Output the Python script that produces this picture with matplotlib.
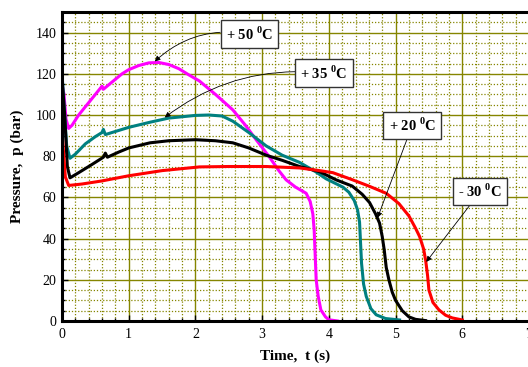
import numpy as np
import matplotlib
matplotlib.use("Agg")
import matplotlib.pyplot as plt
from matplotlib.ticker import MultipleLocator

plt.rcParams['font.family'] = ['Liberation Serif', 'DejaVu Serif']
plt.rcParams['mathtext.fontset'] = 'custom'
plt.rcParams['mathtext.rm'] = 'Liberation Serif'
plt.rcParams['mathtext.bf'] = 'Liberation Serif:bold'

# +50 C (magenta)
t50 = [0.0, 0.03, 0.06, 0.1, 0.15, 0.25, 0.4, 0.55, 0.6, 0.62, 0.75, 0.9, 1.0, 1.15, 1.3,
       1.45, 1.6, 1.75, 1.9, 2.06, 2.3, 2.56, 2.75, 2.91, 3.1, 3.25, 3.36, 3.5, 3.66, 3.72,
       3.76, 3.78, 3.79, 3.81, 3.84, 3.88, 3.95, 4.0, 4.13]
p50 = [115, 110, 98, 93.5, 95, 100, 106, 112, 114, 112.5, 116, 120, 122, 124, 125.3,
       125.5, 124.5, 122.5, 119.5, 116.5, 110, 102.5, 95, 88, 80, 73, 68.5, 65, 62, 58,
       52, 44, 36, 20, 12, 5.4, 2, 0.6, 0]

# +35 C (teal)
t35 = [0.0, 0.03, 0.07, 0.12, 0.2, 0.35, 0.5, 0.6, 0.62, 0.65, 0.8, 1.0, 1.32, 1.6, 2.0,
       2.2, 2.4, 2.56, 2.8, 3.06, 3.3, 3.56, 3.8, 3.96, 4.21, 4.3, 4.38, 4.43, 4.46, 4.475,
       4.49, 4.52, 4.56, 4.63, 4.71, 4.85, 5.06]
p35 = [120, 105, 85, 79, 81, 86, 89.5, 91.5, 93, 90.5, 92, 94, 96.5, 98.5, 99.8,
       100, 99.5, 97, 91.5, 85, 80.5, 77, 72.5, 69, 65, 62.5, 58.5, 54, 48, 38,
       28, 18, 12, 6, 3, 1.2, 0.5]

# +20 C (black)
t20 = [0.0, 0.04, 0.08, 0.12, 0.25, 0.45, 0.62, 0.65, 0.68, 0.85, 1.0, 1.32, 1.6, 2.0,
       2.3, 2.56, 2.8, 3.06, 3.3, 3.56, 3.86, 4.11, 4.35, 4.5, 4.61, 4.7, 4.76, 4.8, 4.83,
       4.86, 4.9, 4.95, 5.0, 5.1, 5.2, 5.3, 5.45]
p20 = [118, 100, 75, 69.5, 72, 76, 79.5, 81.5, 79.5, 82, 84, 86.5, 87.5, 88,
       87.5, 86.5, 84, 80.5, 78, 75, 72.5, 68.5, 65.5, 61.5, 57.5, 52, 47.5, 41, 34.5,
       26, 20, 14, 10, 5, 2, 0.8, 0.2]

# -30 C (red)
tm30 = [0.0, 0.05, 0.1, 0.3, 0.6, 1.0, 1.5, 2.06, 2.5, 3.06, 3.56, 3.86, 4.06, 4.35, 4.6,
        4.86, 5.05, 5.2, 5.3, 5.36, 5.42, 5.45, 5.48, 5.5, 5.56, 5.65, 5.75, 5.85, 6.0]
pm30 = [92, 70, 65.8, 66.5, 68, 70.5, 73, 74.8, 75, 75, 74.3, 73, 72, 68.6, 65.5,
        62, 57, 51, 45, 41, 35, 29.7, 22, 15, 9, 5.4, 2.8, 1.5, 0.5]

labels = [r'+ 50 $^{\mathbf{0}}$C', r'+ 35 $^{\mathbf{0}}$C', r'+ 20 $^{\mathbf{0}}$C', r'- 30 $^{\mathbf{0}}$C']

fig = plt.figure(figsize=(5.28, 3.67), dpi=100)
ax = fig.add_axes([62/528, 1 - 321/367, 467/528, 309/367])

grid_c = '#858500'
ax.xaxis.set_major_locator(MultipleLocator(1))
ax.xaxis.set_minor_locator(MultipleLocator(0.2))
ax.yaxis.set_major_locator(MultipleLocator(20))
ax.yaxis.set_minor_locator(MultipleLocator(5))
ax.grid(which='major', color=grid_c, lw=1.0, ls='-')
ax.grid(which='minor', color=grid_c, lw=0.9, ls=(0, (1, 1.5)))
ax.set_axisbelow(True)

ax.plot(t50, p50, color='#ff00ff', lw=2.2)
ax.plot(t35, p35, color='#008080', lw=2.2)
ax.plot(t20, p20, color='black', lw=2.2)
ax.plot(tm30, pm30, color='#ff0000', lw=2.2)

ax.set_xlim(0, 7)
ax.set_ylim(0, 150)
ax.set_yticks(np.arange(0, 141, 20))

for s in ['left', 'bottom', 'top']:
    ax.spines[s].set_linewidth(2.2)
    ax.spines[s].set_color('black')

ax.tick_params(which='major', direction='in', length=4, width=1, labelsize=10)
ax.tick_params(axis='x', which='major', pad=5)
ax.tick_params(axis='y', which='major', pad=4)
ax.tick_params(which='minor', direction='in', length=2, width=1)

ax.set_xlabel('Time,  t (s)', fontsize=11, fontweight='bold', labelpad=6)
ax.set_ylabel('Pressure,  p (bar)', fontsize=11, fontweight='bold', labelpad=8)

box = dict(boxstyle='square,pad=0.35', fc='white', ec='#333333', lw=1.0)
arr = dict(arrowstyle='-|>', color='black', lw=0.6, mutation_scale=8, shrinkA=0, shrinkB=0)

ax.annotate(labels[0], xy=(1.39, 126), xytext=(2.81, 139.2), fontsize=10.5, fontweight='bold',
            ha='center', va='center', bbox=box,
            arrowprops=dict(arr, connectionstyle='arc3,rad=0.25'))
ax.annotate(labels[1], xy=(1.54, 98.8), xytext=(3.93, 120.3), fontsize=10.5, fontweight='bold',
            ha='center', va='center', bbox=box,
            arrowprops=dict(arr, connectionstyle='arc3,rad=0.2'))
ax.annotate(labels[2], xy=(4.73, 50.1), xytext=(5.25, 95), fontsize=10.5, fontweight='bold',
            ha='center', va='center', bbox=box, arrowprops=arr)
ax.annotate(labels[3], xy=(5.46, 28.7), xytext=(6.27, 62.8), fontsize=10.5, fontweight='bold',
            ha='center', va='center', bbox=box, arrowprops=arr)

fig.savefig('out.png', dpi=100)
